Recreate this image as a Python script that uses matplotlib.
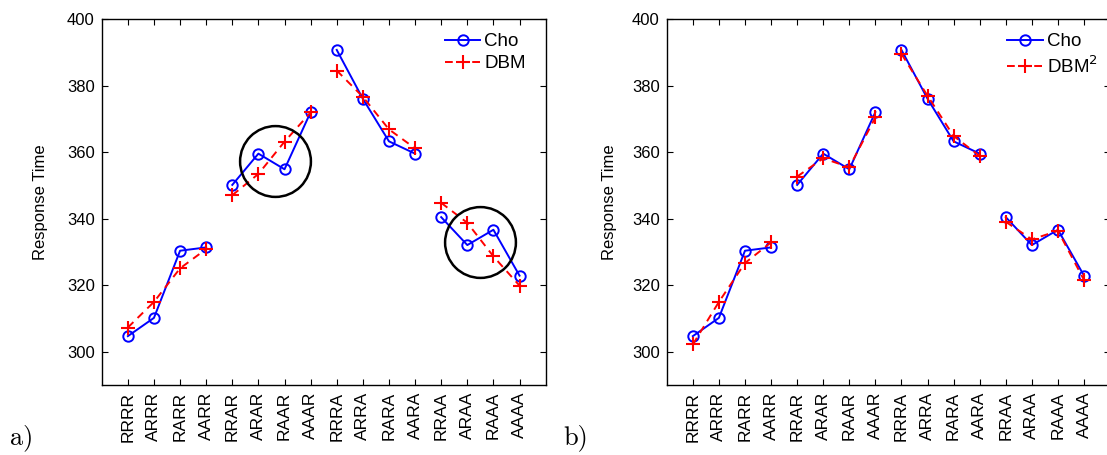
#!/usr/bin/env python

""" Cho vs DBM response times, two panels """

import matplotlib
matplotlib.use("Agg")
import matplotlib.pyplot as plt
from matplotlib.lines import Line2D

conditions = ["RRRR", "ARRR", "RARR", "AARR", "RRAR", "ARAR", "RAAR", "AAAR",
              "RRRA", "ARRA", "RARA", "AARA", "RRAA", "ARAA", "RAAA", "AAAA"]

cho = [304.7, 310.2, 330.4, 331.4, 350.2, 359.6, 354.9, 372.1,
       390.8, 376.1, 363.3, 359.6, 340.5, 332.1, 336.7, 322.9]

dbm = [307.3, 315.0, 325.1, 330.9, 347.1, 353.5, 363.2, 372.0,
       384.6, 376.7, 366.9, 361.2, 344.8, 338.8, 328.7, 319.9]

dbm2 = [302.2, 315.0, 326.7, 332.9, 352.7, 358.2, 355.5, 370.5,
        389.6, 377.0, 364.9, 358.9, 339.1, 333.8, 336.4, 321.6]

# highlighted regions in panel a)
circle_x = [6.64, 14.5]
circle_y = [357.5, 333.1]

group_size = 4

cho_style = dict(color="b", lw=1.4, marker="o", ms=7.5,
                 mfc="none", mec="b", mew=1.4)
model_style = dict(color="r", lw=1.4, ls="--", marker="+", ms=10,
                   mec="r", mew=1.5, dashes=(4, 3))


def draw_panel(ax, model, model_label, ylab_x, leg_x):
    x = list(range(1, len(conditions) + 1))
    # lines are broken between each group of four conditions
    for i in range(0, len(x), group_size):
        sl = slice(i, i + group_size)
        ax.plot(x[sl], cho[sl], **cho_style)
        ax.plot(x[sl], model[sl], **model_style)

    ax.set_xlim(0, 17)
    ax.set_ylim(290, 400)
    ax.set_xticks(x)
    ax.set_xticklabels(conditions, rotation=90, fontsize=12.5)
    ax.set_yticks(range(300, 401, 20))
    ax.tick_params(axis="y", labelsize=12)
    ax.tick_params(direction="in", length=4, width=0.8,
                   top=True, right=True, pad=5)
    for s in ax.spines.values():
        s.set_linewidth(1.0)
    ax.set_ylabel("Response Time", fontsize=12)
    ax.yaxis.set_label_coords(ylab_x, 0.5)

    handles = [Line2D([], [], **cho_style), Line2D([], [], **model_style)]
    ax.legend(handles, ["Cho", model_label], loc="upper right",
              bbox_to_anchor=(leg_x, 0.962), frameon=False, fontsize=13.5,
              handlelength=1.9, handletextpad=0.2, labelspacing=0.25,
              borderaxespad=0, borderpad=0)


def main():
    plt.rcParams["font.family"] = ["Liberation Sans", "DejaVu Sans"]
    fig = plt.figure(figsize=(11.07, 4.55), dpi=100)

    ax1 = fig.add_axes([0.0919, 0.1538, 0.401, 0.8037])
    draw_panel(ax1, dbm, "DBM", -0.121, 0.955)
    ax1.plot(circle_x, circle_y, "o", ms=51, mfc="none", mec="k", mew=1.8)

    ax2 = fig.add_axes([0.6023, 0.1538, 0.4005, 0.8037])
    draw_panel(ax2, dbm2, r"DBM$^2$", -0.112, 0.972)

    fig.text(0.009, 0.024, "a)", family="cmr10", fontsize=19)
    fig.text(0.509, 0.024, "b)", family="cmr10", fontsize=19)

    fig.savefig("out.png", dpi=100)


if __name__ == "__main__":
    main()
